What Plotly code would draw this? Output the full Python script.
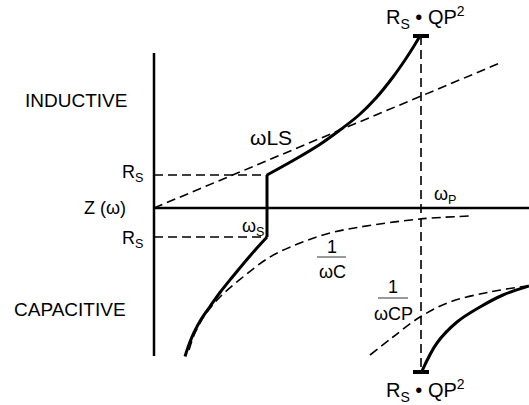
import plotly.graph_objects as go

# ---- data (ω horizontal, Z(ω) vertical; origin at the axis crossing) ----
axis_v_x = [0, 0]
axis_v_y = [155, -148]
axis_h_x = [0, 375]
axis_h_y = [0, 0]

rs_level_hi = 33
rs_level_lo = -29
omega_s = 113
omega_p = 267
z_peak_hi = 172
z_peak_lo = -164

# crystal impedance (solid)
imp_low_x = [31, 35, 40, 47, 56, 66, 78, 90, 101, 113]
imp_low_y = [-148.5, -136.5, -124.5, -111.5, -98.5, -84.5, -69.5, -55, -42.2, -29]
imp_up_x = [113, 140, 165, 186, 205, 222, 239, 251, 260, 266]
imp_up_y = [33, 48, 63, 78, 93, 110, 131, 148, 162, 172]
imp_right_x = [268, 283, 303, 326, 349, 375]
imp_right_y = [-163, -135, -114, -99, -87, -78]

# asymptotes (dashed)
wls_x = [0, 346]
wls_y = [0, 145]
wc_x = [35, 41, 51, 66, 89, 116, 146, 176, 206, 266, 316]
wc_y = [-142, -125, -107, -89, -69, -49, -35, -25, -19, -11, -8]
wcp_x = [216, 239, 266, 296, 336, 373]
wcp_y = [-147, -129, -109, -94, -84, -78]

FONT = "Liberation Sans, Arial, Helvetica, sans-serif"
FS = 18
NB = "\u00a0"

fig = go.Figure()

def line(x, y, width, dash=None, shape="linear", color="black"):
    fig.add_trace(go.Scatter(
        x=x, y=y, mode="lines",
        line=dict(color=color, width=width, dash=dash, shape=shape),
        hoverinfo="skip", showlegend=False))

# axes
line(axis_v_x, axis_v_y, 2.5)
line(axis_h_x, axis_h_y, 2.5)

# Rs dashed levels
line([0, omega_s], [rs_level_hi, rs_level_hi], 1.6, dash="9px,5px")
line([0, omega_s], [rs_level_lo, rs_level_lo], 1.6, dash="9px,5px")

# ωp vertical dashed
line([omega_p, omega_p], [z_peak_hi, z_peak_lo], 1.6, dash="9px,5px")

# caps at ±Rs·QP²
line([omega_p - 8, omega_p + 8], [z_peak_hi, z_peak_hi], 4)
line([omega_p - 8, omega_p + 8], [z_peak_lo, z_peak_lo], 4)

# asymptotes
line(wls_x, wls_y, 1.6, dash="9px,5px")
line(wc_x, wc_y, 1.6, dash="9px,5px", shape="spline")
line(wcp_x, wcp_y, 1.6, dash="9px,5px", shape="spline")

# impedance curve
line(imp_low_x, imp_low_y, 3, shape="spline")
line([omega_s, omega_s], [rs_level_lo, rs_level_hi], 3)
line(imp_up_x, imp_up_y, 3, shape="spline")
line(imp_right_x, imp_right_y, 3, shape="spline")

# fraction bars
line([163, 192], [-49, -49], 1.5, color="#777777")
line([224, 254], [-90, -90], 1.5, color="#777777")

def txt(x, y, s, xa="center", ya="middle", size=FS):
    fig.add_annotation(x=x, y=y, text=s, showarrow=False, xanchor=xa, yanchor=ya,
                       font=dict(family=FONT, size=size, color="black"))

txt(-78, 108, "INDUCTIVE", size=19)
txt(-84, -101, "CAPACITIVE", size=19)
txt(-26, 0, "Z (ω)", xa="right")
txt(-9, 35, "R<sub>S</sub>", xa="right")
txt(-9, -31, "R<sub>S</sub>", xa="right")
txt(94, 71, "ωLS", xa="left", size=21)
txt(86, -19, "ω<sub>S</sub>", xa="left")
txt(278, 13, "ω<sub>P</sub>", xa="left")
txt(178, -39, "1")
txt(178, -64, "ωC")
txt(239, -79, "1")
txt(239, -106, "ωCP")
txt(271, 191, "R<sub>S</sub>" + NB + "•" + NB + "QP<sup>2</sup>", size=20)
txt(271, -182, "R<sub>S</sub>" + NB + "•" + NB + "QP<sup>2</sup>", size=20)

fig.update_layout(
    width=529, height=405,
    margin=dict(l=0, r=0, t=0, b=0),
    paper_bgcolor="white", plot_bgcolor="white",
    xaxis=dict(range=[-154, 375], visible=False, fixedrange=True),
    yaxis=dict(range=[-197, 208], visible=False, fixedrange=True),
)

fig.write_html("out.html", config={"displayModeBar": False},
               post_script="document.body.style.margin='0';")
